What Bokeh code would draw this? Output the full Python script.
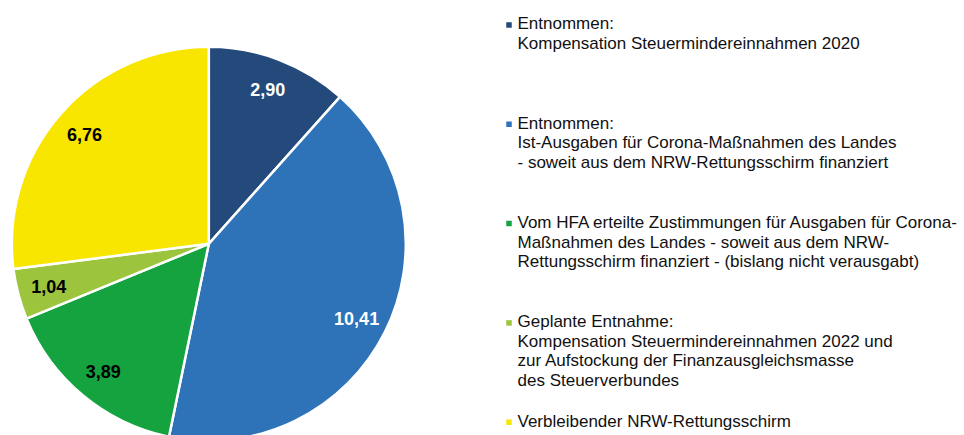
import math
from bokeh.plotting import figure
from bokeh.models import Range1d, ColumnDataSource
from bokeh.core.properties import value
from bokeh.embed import file_html
from bokeh.resources import INLINE

# ---- data ----
values = [2.90, 10.41, 3.89, 1.04, 6.76]
value_labels = ["2,90", "10,41", "3,89", "1,04", "6,76"]
colors = ["#234A7B", "#2E72B8", "#14A33F", "#9DC43D", "#F9E600"]
label_colors = ["white", "white", "black", "black", "black"]
legend_lines = [
    ["Entnommen:", "Kompensation Steuermindereinnahmen 2020"],
    ["Entnommen:", "Ist-Ausgaben für Corona-Maßnahmen des Landes",
     "- soweit aus dem NRW-Rettungsschirm finanziert"],
    ["Vom HFA erteilte Zustimmungen für Ausgaben für Corona-",
     "Maßnahmen des Landes - soweit aus dem NRW-",
     "Rettungsschirm finanziert - (bislang nicht verausgabt)"],
    ["Geplante Entnahme:", "Kompensation Steuermindereinnahmen 2022 und",
     "zur Aufstockung der Finanzausgleichsmasse", "des Steuerverbundes"],
    ["Verbleibender NRW-Rettungsschirm"],
]

W, H = 964, 435
FONT = "Liberation Sans"

p = figure(width=W, height=H, output_backend="svg", toolbar_location=None,
           x_range=Range1d(0, W), y_range=Range1d(0, H),
           min_border=0, outline_line_color=None)
p.axis.visible = False
p.grid.visible = False
p.background_fill_color = "white"

# screen -> data helpers
def dx(sx):
    return sx

def dy(sy):
    return H - sy

cx, cy, R = dx(208.3), dy(243.3), 197

total = sum(values)
starts, ends, lx, ly = [], [], [], []
cum = 0.0
for v in values:
    a0 = cum / total * 2 * math.pi
    cum += v
    a1 = cum / total * 2 * math.pi
    # clockwise from top
    starts.append(math.pi / 2 - a1)
    ends.append(math.pi / 2 - a0)
    mid = (a0 + a1) / 2
    lx.append(cx + 0.84 * R * math.sin(mid))
    ly.append(cy + 0.84 * R * math.cos(mid))

src = ColumnDataSource(dict(start=starts, end=ends, color=colors,
                            lx=lx, ly=ly, txt=value_labels, tc=label_colors))
p.wedge(x=cx, y=cy, radius=R, radius_units="screen",
        start_angle="start", end_angle="end", fill_color="color",
        line_color="white", line_width=2.5, source=src)
p.text(x="lx", y="ly", text="txt", text_color="tc", source=src,
       text_font=value(FONT), text_font_style="bold", text_font_size="18px",
       text_align="center", text_baseline="middle")

# ---- legend ----
tx, ty, tt, mx, my = [], [], [], [], []
for i, lines in enumerate(legend_lines):
    y0 = 23.3 + i * 99.3
    mx.append(dx(508.5))
    my.append(dy(y0 + 1.2))
    for j, line in enumerate(lines):
        tx.append(dx(517))
        ty.append(dy(y0 + j * 19.6))
        tt.append(line)

p.scatter(x=mx, y=my, marker="square", size=5.5, fill_color=colors,
          line_color=None)
p.text(x=tx, y=ty, text=tt, text_font=value(FONT), text_font_size="17px",
       text_color="#111111", text_align="left", text_baseline="middle")

open("out.html", "w").write(file_html(p, INLINE))
